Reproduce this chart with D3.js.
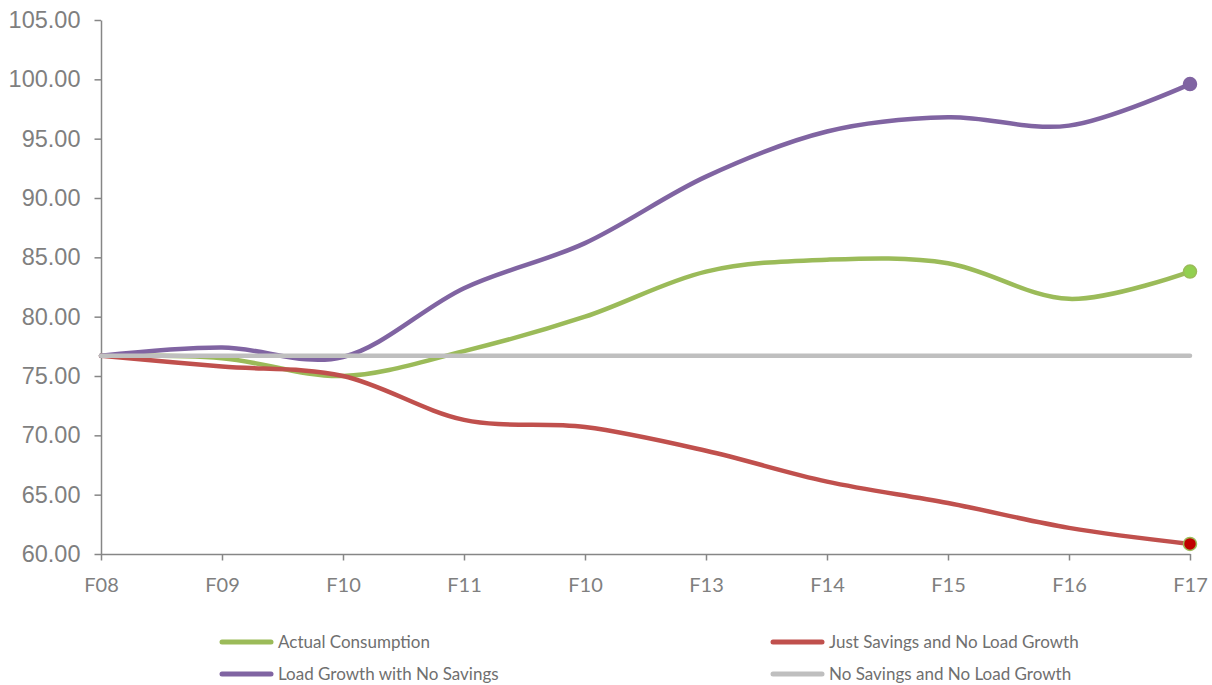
<!DOCTYPE html>
<html>
<head>
<meta charset="utf-8">
<script src="https://cdn.jsdelivr.net/npm/d3@7/dist/d3.min.js"></script>
<style>
  html, body { margin: 0; padding: 0; background: #fff; }
  svg { display: block; }
</style>
</head>
<body>
<svg id="chart" width="1212" height="685"></svg>
<script>
const categories = ["F08", "F09", "F10", "F11", "F10", "F13", "F14", "F15", "F16", "F17"];
const actualConsumption = [76.7, 76.5, 75.0, 77.1, 80.0, 83.8, 84.8, 84.5, 81.5, 83.8];
const loadGrowthNoSavings = [76.7, 77.4, 76.6, 82.4, 86.2, 91.8, 95.6, 96.8, 96.1, 99.6];
const justSavingsNoGrowth = [76.7, 75.8, 75.0, 71.3, 70.7, 68.7, 66.1, 64.3, 62.2, 60.85];
const noSavingsNoGrowth = [76.7, 76.7, 76.7, 76.7, 76.7, 76.7, 76.7, 76.7, 76.7, 76.7];
const yTicks = [60, 65, 70, 75, 80, 85, 90, 95, 100, 105];

const seriesList = [
  { name: "Actual Consumption", values: actualConsumption, color: "#9bbb59", marker: { fill: "#92d050", stroke: "#9bbb59" } },
  { name: "Load Growth with No Savings", values: loadGrowthNoSavings, color: "#8064a2", marker: { fill: "#8064a2", stroke: "#8064a2" } },
  { name: "Just Savings and No Load Growth", values: justSavingsNoGrowth, color: "#c0504d", marker: { fill: "#c00000", stroke: "#9bbb59" } },
  { name: "No Savings and No Load Growth", values: noSavingsNoGrowth, color: "#bfbfbf", marker: null }
];

const svg = d3.select("#chart");
const margin = { left: 101, right: 22, top: 20, bottom: 131 };
const W = 1212, H = 685;

const x = d3.scalePoint().domain(d3.range(categories.length)).range([margin.left, W - margin.right]);
const y = d3.scaleLinear().domain([60, 105]).range([H - margin.bottom, margin.top]);

const axisColor = "#868686";
const labelColor = "#7f7f7f";

// Y axis
const yAxis = svg.append("g")
  .attr("transform", `translate(${margin.left},0)`)
  .call(d3.axisLeft(y).tickValues(yTicks).tickSize(6.5).tickSizeOuter(0).tickPadding(14).tickFormat(d3.format(".2f")));
yAxis.selectAll("path, line").attr("stroke", axisColor).attr("stroke-width", 1.5);
yAxis.selectAll("text").attr("fill", labelColor).style("font-family", "'Liberation Sans', Arial, sans-serif").style("font-size", "23.5px");

// X axis
const xAxis = svg.append("g")
  .attr("transform", `translate(0,${H - margin.bottom})`)
  .call(d3.axisBottom(x).tickSize(6.5).tickSizeOuter(0).tickPadding(17).tickFormat(i => categories[i]));
xAxis.selectAll("path, line").attr("stroke", axisColor).attr("stroke-width", 1.5);
xAxis.selectAll("text").attr("fill", labelColor).style("font-family", "Lato, 'Open Sans', sans-serif").style("font-size", "20px");

// Lines
const line = d3.line()
  .x((d, i) => x(i))
  .y(d => y(d))
  .curve(d3.curveCatmullRom.alpha(0));

const drawOrder = [0, 2, 1, 3];
drawOrder.forEach(k => {
  const s = seriesList[k];
  svg.append("path")
    .datum(s.values)
    .attr("fill", "none")
    .attr("stroke", s.color)
    .attr("stroke-width", 4.5)
    .attr("stroke-linejoin", "round")
    .attr("stroke-linecap", "round")
    .attr("d", line);
});

// End markers
seriesList.forEach(s => {
  if (!s.marker) return;
  const last = s.values.length - 1;
  svg.append("circle")
    .attr("cx", x(last))
    .attr("cy", y(s.values[last]))
    .attr("r", 6.5)
    .attr("fill", s.marker.fill)
    .attr("stroke", s.marker.stroke)
    .attr("stroke-width", 1.5);
});

// Legend
const legendPos = [
  { idx: 0, x: 219, y: 642 },
  { idx: 2, x: 770, y: 642 },
  { idx: 1, x: 219, y: 674 },
  { idx: 3, x: 770, y: 674 }
];
legendPos.forEach(p => {
  const s = seriesList[p.idx];
  const g = svg.append("g").attr("transform", `translate(${p.x},${p.y})`);
  g.append("line")
    .attr("x1", 3).attr("x2", 52).attr("y1", 0).attr("y2", 0)
    .attr("stroke", s.color).attr("stroke-width", 5).attr("stroke-linecap", "round");
  g.append("text")
    .attr("x", 59).attr("y", 0).attr("dy", "0.35em")
    .attr("fill", "#6f6f6f")
    .style("font-family", "Lato, 'Open Sans', sans-serif")
    .style("font-size", "17px")
    .text(s.name);
});
</script>
</body>
</html>
